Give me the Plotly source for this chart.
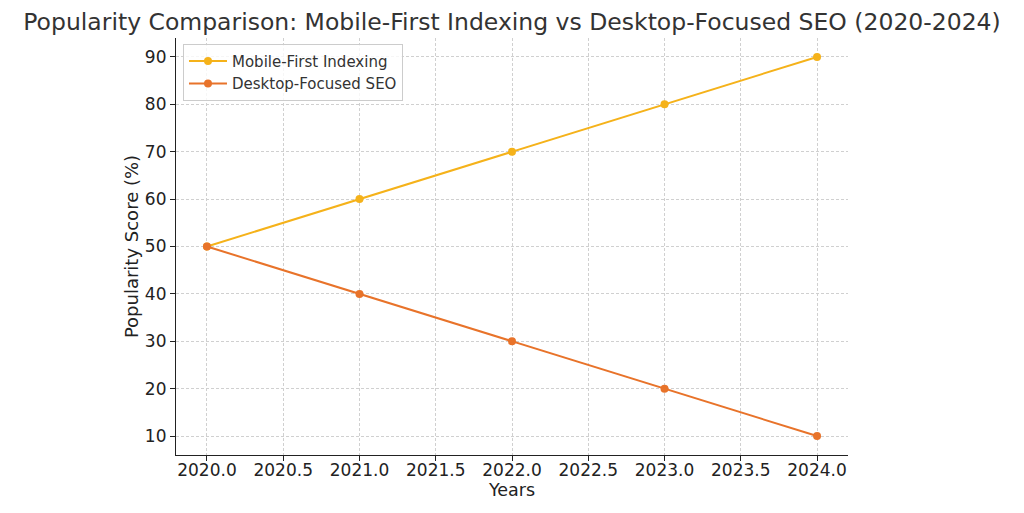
import plotly.graph_objects as go

years = [2020, 2021, 2022, 2023, 2024]
mobile_first = [50, 60, 70, 80, 90]
desktop_focused = [50, 40, 30, 20, 10]
x_ticks = [2020.0, 2020.5, 2021.0, 2021.5, 2022.0, 2022.5, 2023.0, 2023.5, 2024.0]
y_ticks = [10, 20, 30, 40, 50, 60, 70, 80, 90]

fig = go.Figure()
fig.add_trace(go.Scatter(x=years, y=mobile_first, mode="lines+markers", name="Mobile-First Indexing",
                         line=dict(color="#F5B21A", width=2), marker=dict(size=8, color="#F5B21A")))
fig.add_trace(go.Scatter(x=years, y=desktop_focused, mode="lines+markers", name="Desktop-Focused SEO",
                         line=dict(color="#E8732A", width=2), marker=dict(size=8, color="#E8732A")))

fig.update_layout(
    width=1024, height=513,
    margin=dict(l=168, r=184, t=30, b=66),
    paper_bgcolor="white", plot_bgcolor="white",
    font=dict(family="DejaVu Sans", color="#333333", size=16),
    title=dict(text="Popularity Comparison: Mobile-First Indexing vs Desktop-Focused SEO (2020-2024)",
               x=0.4922, xanchor="center", y=0.99, yanchor="top", font=dict(size=23.5, color="#333333")),
    legend=dict(x=0.0104, y=0.986, xanchor="left", yanchor="top", bgcolor="rgba(255,255,255,0.8)",
                bordercolor="#cccccc", borderwidth=1, font=dict(size=15, color="#333333"),
                tracegroupgap=0, itemwidth=38),
    showlegend=True,
)
fig.update_xaxes(range=[2019.797, 2024.203], tickvals=x_ticks, ticktext=[f"{v:.1f}" for v in x_ticks],
                 showline=True, linecolor="#222222", linewidth=1.2, ticks="outside", ticklen=5,
                 tickcolor="#222222", showgrid=True, gridcolor="#d0d0d0", griddash="3px,2px", gridwidth=1,
                 zeroline=False, automargin=False, ticklabelstandoff=-6,
                 title=dict(text="Years", font=dict(size=17.5, color="#222222"), standoff=2),
                 tickfont=dict(size=17, color="#222222"))
fig.update_yaxes(range=[6.0, 94.0], tickvals=y_ticks,
                 showline=True, linecolor="#222222", linewidth=1.2, ticks="outside", ticklen=5,
                 tickcolor="#222222", showgrid=True, gridcolor="#d0d0d0", griddash="3px,2px", gridwidth=1,
                 zeroline=False, automargin=False,
                 title=dict(text="Popularity Score (%)", font=dict(size=18, color="#222222"), standoff=1),
                 tickfont=dict(size=17, color="#222222"))

fig.write_html("out.html")
